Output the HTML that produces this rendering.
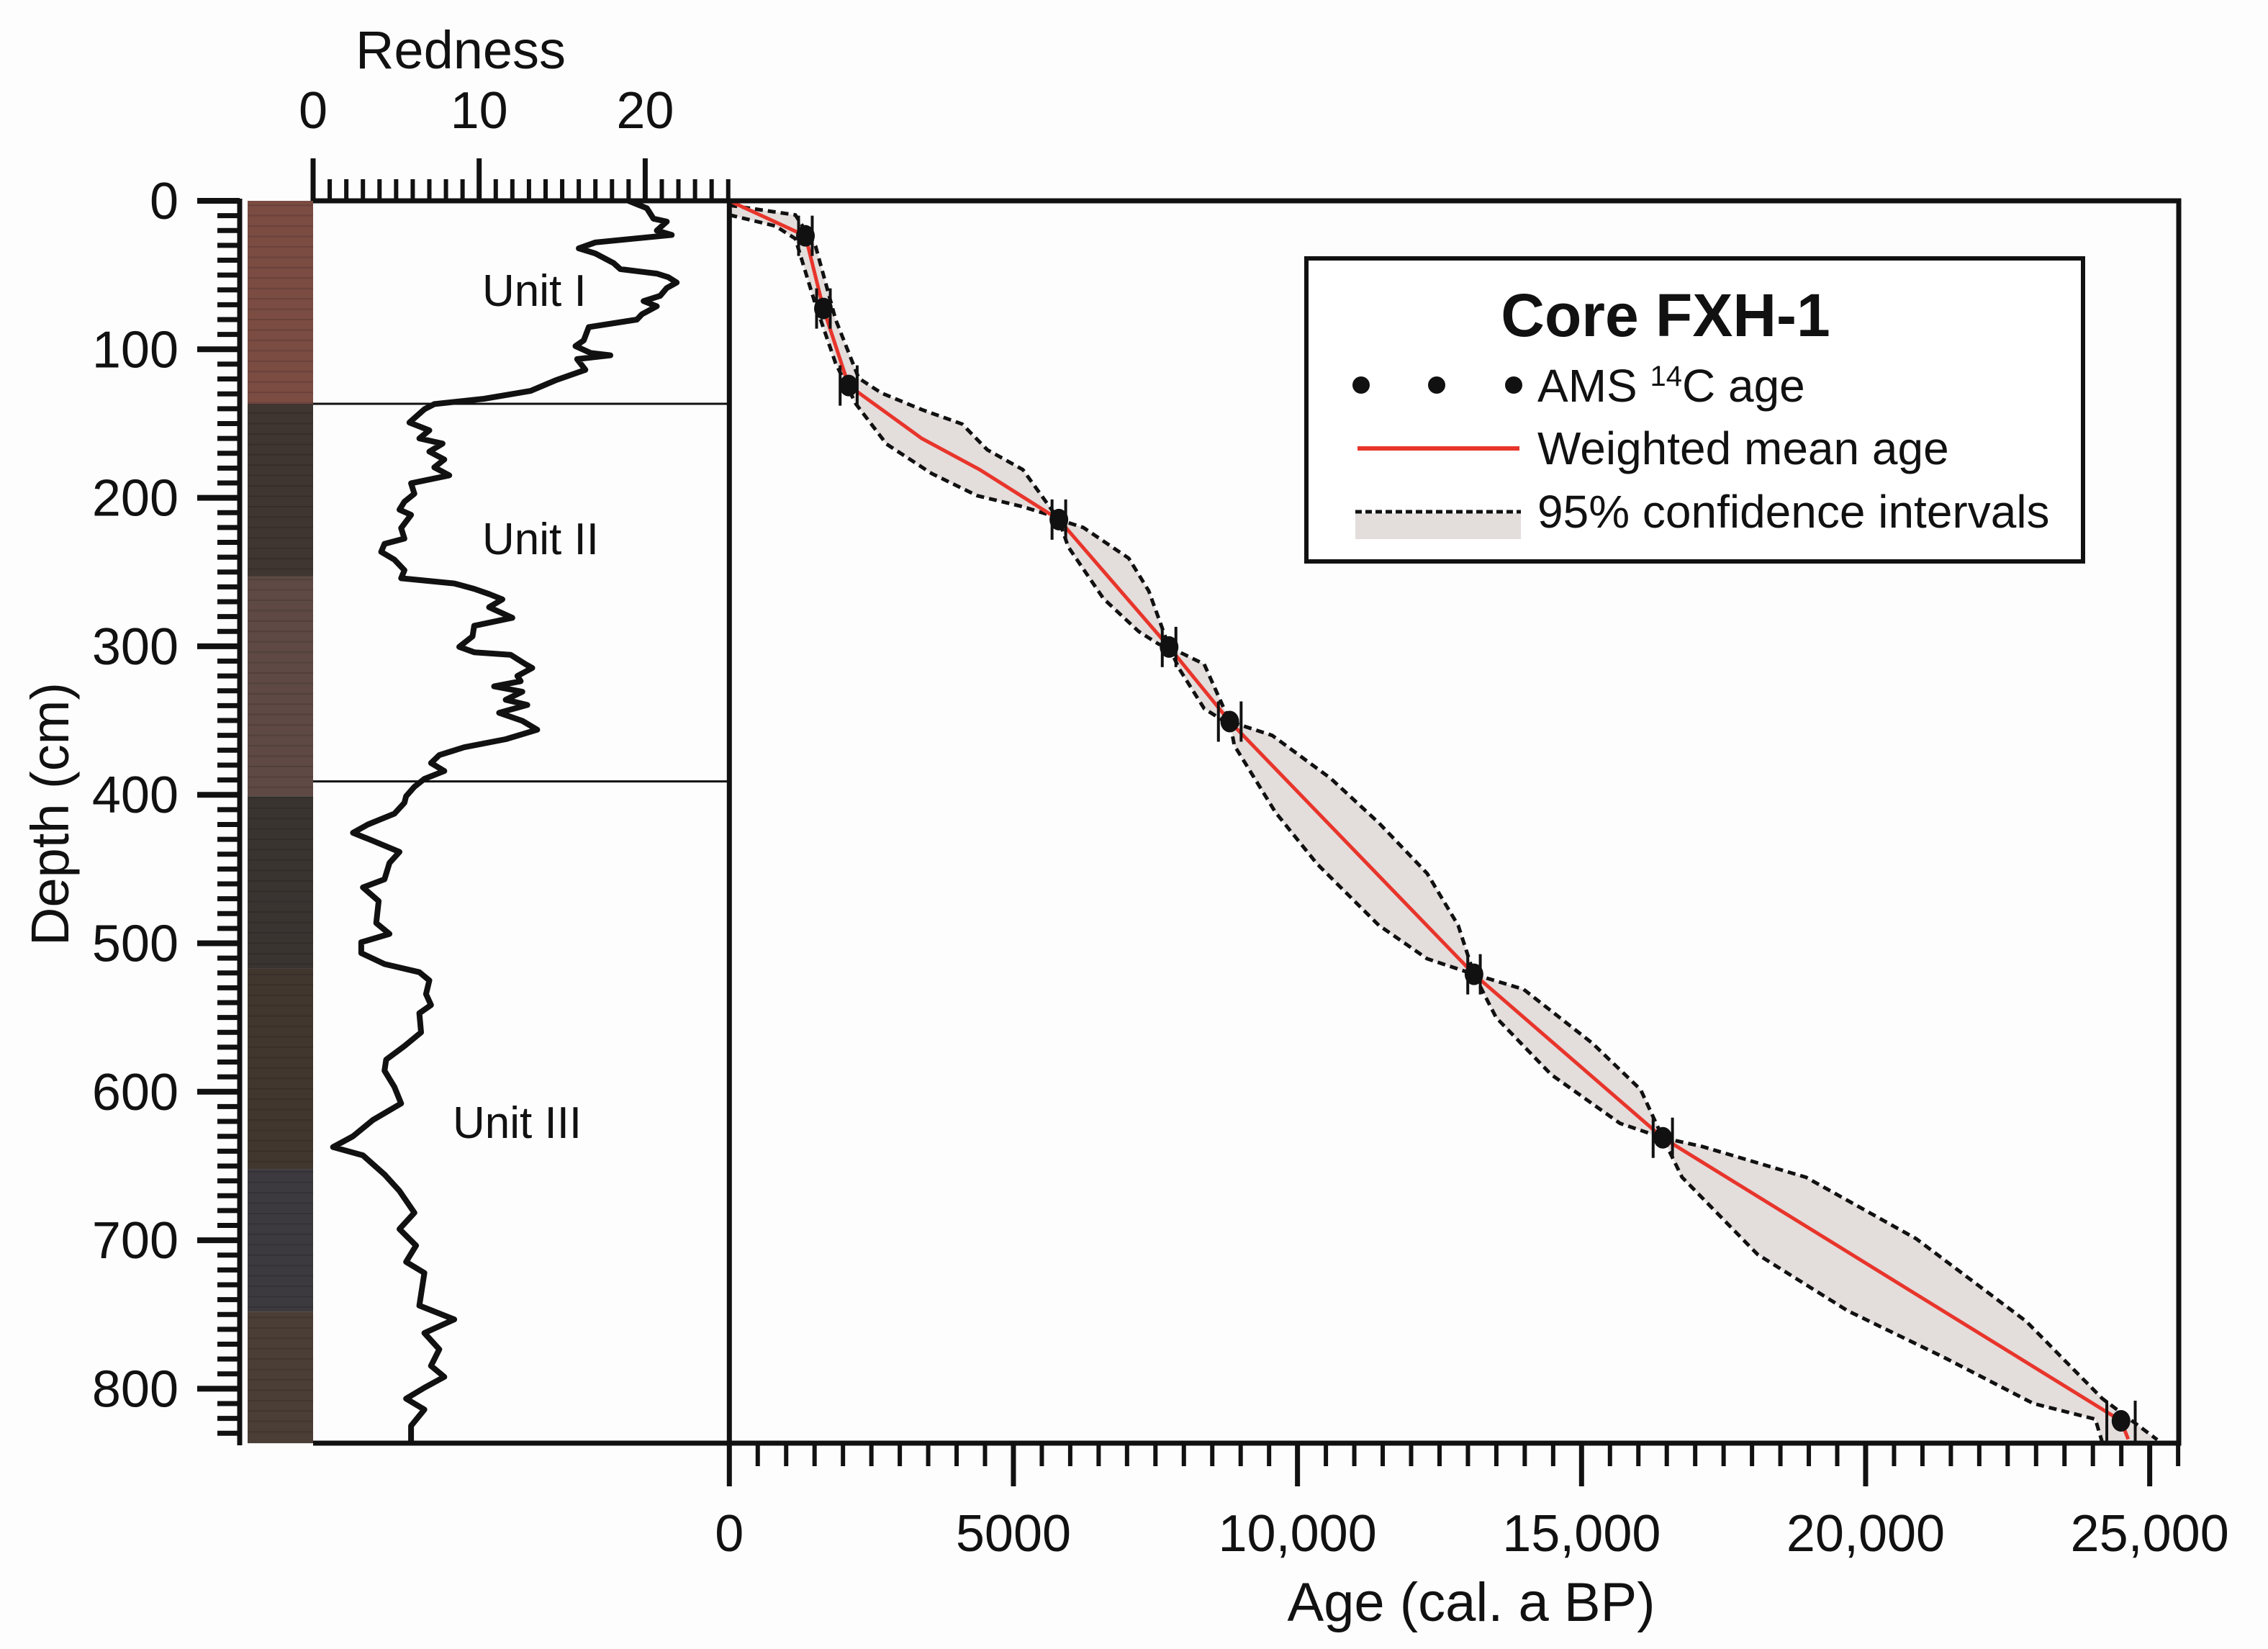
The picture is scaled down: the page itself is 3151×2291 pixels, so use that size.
<!DOCTYPE html>
<html><head><meta charset="utf-8"><style>
html,body{margin:0;padding:0;background:#fdfdfd;}
svg{display:block;font-family:"Liberation Sans",Arial,sans-serif;}
</style></head><body>
<svg id="chart" width="3151" height="2291" viewBox="0 0 3151 2291" xmlns="http://www.w3.org/2000/svg">
<rect x="0" y="0" width="3151" height="2291" fill="#fdfdfd"/>
<g id="core"></g>
<g id="redness"></g>
<g id="main"></g>
<g id="legend">
  <rect x="1815" y="359" width="1079" height="421" fill="#fff" stroke="#111" stroke-width="6"/>
  <text x="2314" y="467" text-anchor="middle" font-size="84" font-weight="bold" fill="#111">Core FXH-1</text>
  <g>
    <circle cx="1891" cy="535" r="12" fill="#111"/><circle cx="1996" cy="535" r="12" fill="#111"/><circle cx="2103" cy="535" r="12" fill="#111"/>
    <text x="2136" y="558" font-size="64" fill="#111">AMS <tspan font-size="40" dy="-22">14</tspan><tspan dy="22">C age</tspan></text>
  </g>
  <g>
    <line x1="1886" y1="623" x2="2111" y2="623" stroke="#e8352b" stroke-width="6"/>
    <text x="2136" y="645" font-size="64" fill="#111">Weighted mean age</text>
  </g>
  <g>
    <rect x="1883" y="713" width="230" height="36" fill="#e3dddc"/>
    <line x1="1883" y1="711" x2="2113" y2="711" stroke="#111" stroke-width="5" stroke-dasharray="9,5"/>
    <text x="2136" y="733" font-size="64" fill="#111">95% confidence intervals</text>
  </g>
</g>
</svg>
<script>
// ---- data ----
const dateAges   = [1339, 1656, 2100, 5800, 7740, 8808, 13107, 16430, 24495];
const dateDepths = [23.6, 72.5, 124.4, 214.7, 300.5, 350.7, 520.9, 631, 821.6];
const dateErrs   = [120, 120, 150, 120, 120, 200, 110, 170, 250];
const meanAges   = [0, 1339, 1656, 2100, 3387, 4405, 5800, 7740, 8808, 13107, 16430, 24495, 24622];
const meanDepths = [0, 23.6, 72.5, 124.4, 160, 181, 214.7, 300.5, 350.7, 520.9, 631, 821.6, 834];
const olderAges   = [0, 1162, 1516, 1871, 2278, 2676, 3387, 4097, 4542, 5165, 5800, 6230, 7030, 7382, 7740, 8358, 8808, 9555, 10585, 11434, 12283, 12828, 13107, 13980, 15192, 16040, 16430, 17133, 18950, 20890, 22825, 24165, 25133];
const olderDepths = [3, 9.5, 30.4, 80, 119.5, 129.4, 140.6, 150.3, 167.7, 181, 214.7, 220, 240.7, 262.7, 300.5, 312, 350.7, 360, 389, 419, 453, 488, 520.9, 531, 567.4, 598.6, 631, 637, 657.6, 699, 754.6, 806.6, 834.3];
const youngerAges   = [0, 808, 1162, 1516, 1871, 2226, 2765, 3564, 4365, 5165, 5698, 5800, 5965, 6585, 7205, 7560, 7740, 7915, 8358, 8720, 8808, 8888, 9612, 10343, 11434, 12283, 13107, 13496, 14465, 15677, 16430, 16768, 18100, 19680, 21375, 22954, 24043, 24165];
const youngerDepths = [9.5, 16.9, 25.5, 70, 109.5, 136.7, 163.8, 183.7, 198.6, 206, 212.3, 214.7, 233, 267.9, 290, 298.6, 300.5, 315, 342, 350.7, 350.7, 366.8, 411.8, 446.5, 488, 510.4, 520.9, 550, 588.4, 621.3, 631, 657.6, 709.6, 747.4, 778.8, 810, 820.5, 836];
const rednessVals = [19.0,20.1,20.5,21.3,20.7,21.6,17.0,16.0,17.0,18.1,18.5,20.7,21.4,21.9,21.3,20.9,19.9,20.7,19.8,19.5,16.6,16.3,15.8,16.7,17.9,15.9,16.4,14.6,13.1,10.3,7.3,6.7,5.8,7.0,6.4,7.8,7.0,7.9,7.3,8.2,5.9,6.1,5.5,5.2,5.9,5.3,5.5,4.3,4.1,4.9,5.5,5.3,8.5,9.7,10.6,11.4,10.6,12.0,9.7,9.6,8.8,9.7,11.9,12.8,13.2,12.3,12.5,10.9,12.6,11.6,12.9,11.2,12.6,13.5,11.6,9.1,7.6,7.1,7.9,6.7,6.1,5.6,5.5,4.9,3.3,2.4,3.6,5.2,4.6,4.3,3.0,3.95,3.8,4.6,2.9,2.9,4.3,6.4,7.0,6.8,7.1,6.4,6.5,5.5,4.4,4.3,4.9,5.3,3.6,2.4,1.2,3.0,4.3,5.2,6.1,5.2,6.2,5.6,6.7,6.4,8.5,6.7,7.6,7.1,7.9,6.7,5.6,6.7,5.9,5.9];
const rednessDepths = [0,5,12,14,20,23,28,32,35.5,42,46,49,51.5,55,58.7,64,67.5,71,76.4,80,85,94,97.8,102.4,104,106.6,113.8,120.9,128,133.3,136.9,140.4,149.3,154.6,160,163.5,168.9,174.2,179.5,184.9,190.2,197.3,202.6,208,211.5,220.4,227.5,231,236.4,241.7,248.8,254.2,257.7,261.3,264.8,268.4,273.7,280.8,286.2,293.3,300.4,304,305.7,312.1,314.6,320,323.5,327,330.6,336,339.5,344.8,350.2,356.2,362.6,368,373.3,378.6,384,389.3,394.6,401,405.4,412.7,420,425.6,431,438.5,445.9,456.9,462.4,471.6,486.4,493.7,499.3,506.6,514,519.5,525,534.2,541.6,547.1,560,569.2,578.4,585.8,596.8,607.9,619,630,637.3,642.8,655.7,666.8,681.5,692.5,703.6,714.6,722,744,753.3,762.5,773.5,784.6,792,799.3,806.7,814,825,836];
const depthTicks = [0,100,200,300,400,500,600,700,800];
const rednessTicks = [0,10,20];
const ageTicks = [0,5000,10000,15000,20000,25000];
const ageTickLabels = ["0","5000","10,000","15,000","20,000","25,000"];
const unitBoundaries = [136.7, 391];
const unitNames = ["Unit I","Unit II","Unit III"];
const unitLabelDepths = [60.6, 227.8, 621];
const coreColors = ["#7a4c42","#3f3531","#5e4944","#3a3430","#42372f","#3c3a3e","#4b3e36"];
const coreDepths = [0,136.7,253,401,517,652,748,836.7];

// ---- scales ----
const NS = "http://www.w3.org/2000/svg";
const ageX = a => 1013.3 + a * 0.078934;
const depthY = d => 279 + d * 2.063;
const redX = r => 435 + r * 23.07;
function mk(tag, attrs, parent){ const e=document.createElementNS(NS,tag); for(const k in attrs) e.setAttribute(k,attrs[k]); parent.appendChild(e); return e; }

const core = document.getElementById('core');
const red = document.getElementById('redness');
const main = document.getElementById('main');

for(let i=0;i<coreColors.length;i++){
  const r = mk('rect',{x:344,y:depthY(coreDepths[i]),width:91,height:depthY(coreDepths[i+1])-depthY(coreDepths[i]),fill:coreColors[i]},core);
  
  
}
for(let d=3; d<836; d+=7){
  const l = mk('line',{x1:344,x2:435,y1:depthY(d),y2:depthY(d),stroke:'#000','stroke-opacity':0.12,'stroke-width':2},core);
  
  
}

const dAx = mk('line',{x1:333,y1:depthY(0)-3,x2:333,y2:2008,stroke:'#111','stroke-width':7},red);


for(let d=0; d<=830; d+=10){
  const major = d%100===0;
  const t = mk('line',{x1:major?274:302,x2:333,y1:depthY(d),y2:depthY(d),stroke:'#111','stroke-width':major?8:7},red);
  
  
}
depthTicks.forEach(d=>{
  const t = mk('text',{x:248,y:depthY(d)+25,'text-anchor':'end','font-size':72,fill:'#111'},red);
  t.textContent = d;
  
  
});
const dTitle = mk('text',{x:0,y:0,transform:'translate(95,1131) rotate(-90)','text-anchor':'middle','font-size':74,fill:'#111'},red);
dTitle.textContent='Depth (cm)';



const rAx = mk('line',{x1:435,y1:279,x2:1013,y2:279,stroke:'#111','stroke-width':7},red);


const rBot = mk('line',{x1:435,y1:2005,x2:1013,y2:2005,stroke:'#111','stroke-width':7},red);


for(let r=0;r<=25;r++){
  const major = r%10===0;
  const t = mk('line',{x1:redX(r),x2:redX(r),y1:major?220:249,y2:279,stroke:'#111','stroke-width':major?7:6},red);
  
  
}
rednessTicks.forEach(r=>{
  const t = mk('text',{x:redX(r),y:178,'text-anchor':'middle','font-size':72,fill:'#111'},red);
  t.textContent=r;
  
  
});
const rTitle = mk('text',{x:640,y:95,'text-anchor':'middle','font-size':74,fill:'#111'},red);
rTitle.textContent='Redness';


unitBoundaries.forEach(d=>{
  const l = mk('line',{x1:435,x2:1013,y1:depthY(d),y2:depthY(d),stroke:'#111','stroke-width':3},red);
  
  
});
unitNames.forEach((n,i)=>{
  const t = mk('text',{x:i===2?629:670,y:depthY(unitLabelDepths[i])+21,'font-size':62,fill:'#111'},red);
  t.textContent=n;
  
  
});
const rp = rednessVals.map((v,i)=>redX(v).toFixed(1)+','+depthY(rednessDepths[i]).toFixed(1)).join(' ');
const rLine = mk('polyline',{points:rp,fill:'none',stroke:'#111','stroke-width':8,'stroke-linejoin':'round'},red);



const up = olderAges.map((a,i)=>ageX(a).toFixed(1)+','+depthY(olderDepths[i]).toFixed(1));
const lo = youngerAges.map((a,i)=>ageX(a).toFixed(1)+','+depthY(youngerDepths[i]).toFixed(1));
const env = mk('polygon',{points:up.concat(lo.slice().reverse()).join(' '),fill:'#e3dddc',stroke:'none'},main);


const upL = mk('polyline',{points:up.join(' '),fill:'none',stroke:'#111','stroke-width':5,'stroke-dasharray':'11,7'},main);


const loL = mk('polyline',{points:lo.join(' '),fill:'none',stroke:'#111','stroke-width':5,'stroke-dasharray':'11,7'},main);


const mp = meanAges.map((a,i)=>ageX(a).toFixed(1)+','+depthY(meanDepths[i]).toFixed(1)).join(' ');
const mLine = mk('polyline',{points:mp,fill:'none',stroke:'#e8352b','stroke-width':5},main);


dateAges.forEach((a,i)=>{
  const x=ageX(a), y=depthY(dateDepths[i]), e=dateErrs[i]*0.078934;
  [-e,e].forEach(dx=>{
    const b = mk('line',{x1:x+dx,x2:x+dx,y1:y-28,y2:y+28,stroke:'#111','stroke-width':4},main);
    
    
  });
  const c = mk('ellipse',{cx:x,cy:y,rx:13,ry:15,fill:'#111'},main);
  
  
});
const frame = mk('rect',{x:1013.3,y:279,width:2013.7,height:1726,fill:'none',stroke:'#111','stroke-width':7},main);


for(let a=0;a<=25500;a+=500){
  const major = a%5000===0;
  const t = mk('line',{x1:ageX(a),x2:ageX(a),y1:2005,y2:major?2065:2037,stroke:'#111','stroke-width':major?7:6},main);
  
  
}
ageTicks.forEach((a,i)=>{
  const t = mk('text',{x:ageX(a),y:2155,'text-anchor':'middle','font-size':72,fill:'#111'},main);
  t.textContent=ageTickLabels[i];
  
  
});
const aTitle = mk('text',{x:2044,y:2252,'text-anchor':'middle','font-size':76,fill:'#111'},main);
aTitle.textContent='Age (cal. a BP)';


</script>
</body></html>
